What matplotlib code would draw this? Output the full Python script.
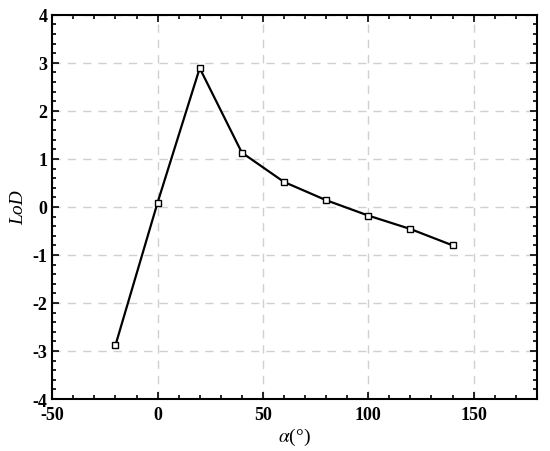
import matplotlib
matplotlib.use('Agg')
import matplotlib.pyplot as plt
from matplotlib.ticker import MultipleLocator

# Data
alpha = [-20, 0, 20, 40, 60, 80, 100, 120, 140]
lod = [-2.88, 0.09, 2.89, 1.13, 0.52, 0.14, -0.18, -0.46, -0.80]

plt.rcParams['font.family'] = ['Liberation Serif', 'DejaVu Serif']
plt.rcParams['mathtext.fontset'] = 'stix'
plt.rcParams['axes.unicode_minus'] = False

fig = plt.figure(figsize=(5.5, 4.52), dpi=100)
ax = fig.add_axes([0.095, 0.115, 0.881, 0.85])

ax.plot(alpha, lod, color='black', lw=1.6, marker='s', markersize=4,
        markerfacecolor='white', markeredgecolor='black', markeredgewidth=1.0)

ax.set_xlim(-50, 180)
ax.set_ylim(-4, 4)
ax.xaxis.set_major_locator(MultipleLocator(50))
ax.xaxis.set_minor_locator(MultipleLocator(10))
ax.yaxis.set_major_locator(MultipleLocator(1))
ax.yaxis.set_minor_locator(MultipleLocator(0.2))

ax.grid(True, which='major', color='#d0d0d0', linestyle=(0, (6, 5)), lw=1.0)
ax.tick_params(which='both', direction='in', top=True, right=True, labelsize=13, width=1.2)
ax.tick_params(which='major', length=5)
ax.tick_params(which='minor', length=3)
ax.tick_params(axis='x', pad=5)
for lbl in ax.get_xticklabels() + ax.get_yticklabels():
    lbl.set_fontweight('bold')
for s in ax.spines.values():
    s.set_linewidth(1.5)

ax.set_xlabel(r'$\alpha$(°)', fontsize=14, labelpad=2)
ax.set_ylabel('LoD', fontsize=14, style='italic')

fig.savefig('out.png', dpi=100)
